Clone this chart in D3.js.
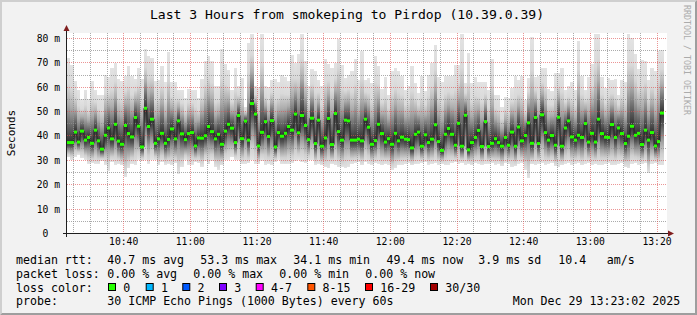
<!DOCTYPE html>
<html><head><meta charset="utf-8">
<script src="https://cdn.jsdelivr.net/npm/d3@7"></script>
<style>
html,body{margin:0;padding:0;background:#f2f2f2;}
svg{display:block;}
text{font-family:"DejaVu Sans Mono", monospace;fill:#000;}
</style></head><body>
<svg id="c" width="697" height="315"></svg>
<script>
// ---------------- data ----------------
const titleText = "Last 3 Hours from smokeping to Pirdop (10.39.0.39)";
const startTime = new Date(2025, 11, 29, 10, 23, 0);
const endTime = new Date(2025, 11, 29, 13, 23, 0);

// median RTT per 60 s step (ms)
const medianRtt = [
37.3,37.3,41.6,37.5,42.0,38.3,39.4,37.0,42.4,38.0,34.6,40.3,43.3,38.8,44.8,37.9,36.6,44.3,41.0,39.6,47.6,44.0,35.5,51.4,43.9,46.9,37.0,38.8,41.1,37.0,38.6,
42.9,38.8,46.2,40.9,38.5,41.0,41.4,35.9,39.2,39.1,40.1,43.9,41.8,38.8,40.7,36.6,42.0,44.8,43.2,37.3,48.4,38.9,46.1,38.3,53.3,49.0,35.9,41.5,45.9,
39.8,46.3,35.5,41.4,39.9,41.1,43.9,42.4,49.0,41.3,48.4,44.3,38.5,47.3,36.9,46.5,35.8,39.2,47.2,36.5,49.2,41.8,38.3,46.5,46.2,38.3,38.3,38.7,38.0,46.9,43.6,
36.6,38.1,44.8,41.0,37.5,38.9,36.6,41.1,38.0,39.5,38.7,38.5,35.1,40.7,41.6,35.8,40.5,37.3,38.7,44.6,37.7,34.1,40.7,43.1,40.7,36.2,45.2,35.8,48.5,34.3,
37.3,39.4,42.3,35.7,45.9,35.7,37.0,38.9,37.3,35.8,39.4,36.2,41.6,35.8,43.7,38.0,40.2,45.4,37.0,47.6,36.9,48.7,41.4,38.3,40.2,36.2,47.7,35.8,43.3,46.2,
39.6,38.3,40.3,39.4,45.1,37.5,41.1,37.5,46.9,41.0,39.5,39.4,44.7,39.4,43.3,41.0,36.9,39.9,44.0,40.3,41.1,36.5,42.4,38.3,41.4,35.9,37.7,49.4
];
// fastest ping per step (ms)
const minRtt = [
31.2,30.3,31.4,32.4,30.8,30.3,28.7,29.0,28.7,28.7,29.8,28.3,25.7,29.4,28.3,28.7,28.0,23.0,26.7,28.7,
28.3,30.3,29.8,30.1,28.7,30.3,30.1,28.0,29.4,28.3,28.7,28.0,29.0,24.6,27.3,30.3,28.3,28.3,29.4,29.0,
27.3,29.8,28.4,29.8,27.3,26.2,28.0,30.1,30.3,31.4,30.3,30.1,28.7,28.7,29.0,30.3,28.7,28.4,29.8,28.3,
28.7,28.0,29.4,30.3,28.7,28.4,28.7,29.0,29.8,30.3,29.4,29.0,30.1,30.3,28.3,28.7,28.0,27.3,26.7,28.7,
28.0,27.3,
27.3,26.7,27.3,28.7,29.0,29.4,28.0,29.4,28.7,28.3,29.0,28.7,28.0,28.7,28.3,26.2,26.7,28.0,28.3,28.7,
29.0,28.0,28.4,28.7,29.0,29.4,28.3,28.7,29.0,28.3,28.7,28.0,28.3,29.0,29.4,28.7,29.0,28.3,28.7,28.0,
29.0,28.7,28.3,28.4,28.7,29.0,28.3,28.7,27.6,29.0,28.7,27.3,27.6,28.7,29.0,26.2,22.6,28.4,28.0,28.7,
29.0,28.3,28.7,29.0,27.6,27.3,28.0,28.7,29.0,28.3,28.7,29.0,28.0,28.7,29.0,28.3,28.7,28.0,28.3,28.7,
29.0,28.0,28.3,28.7,29.0,27.3,26.7,28.7,29.0,28.3,28.7,29.0,25.0,28.7,29.0,28.3,28.0
];
// slowest ping per step (ms)
const maxRtt = [
72.0,69.3,62.5,59,55,59,55,62.5,59,57,57,65,64,68,70,63.5,62.5,64.5,68.6,64.5,
63.5,68,63.5,75.5,72.7,72,62.5,63,68.6,62,74.3,62,62,59,59,55.4,59.4,59,59,55.4,
63.5,70.6,72.7,70.6,60.4,60.4,75.5,69.7,67,58.8,67.7,60.4,63.8,52,78.2,82,60.4,60,82.3,60.4,
60,63,63.5,62,65,64,62.5,73.4,70,73.5,82.3,70.7,60.4,67.3,66.6,62.9,60.4,71.4,69.4,68,70,79.6,
69,63.8,65,66.6,71.4,62.9,74.9,62.9,63.8,61.8,72.7,68.6,59.4,64,57,66.6,67.7,66.6,64.5,59,
60.4,68.6,61.8,57.7,64.5,58.3,65,70,77.3,64,62.2,64.5,64.8,64.8,69,69,82.3,61.6,74.1,61.6,
64,62,62,62.2,58.8,71.4,57,56.7,52,56,55.7,59.7,64.5,62.9,64.5,54.6,63.8,80.6,64,64.5,
67.7,67.7,59.4,58.3,65.9,65.9,68,58.8,60.4,62,59,78.9,64.8,59,64,69.4,82,82.3,64,59.7,
63.8,62.9,63.2,57,62.9,62,82,80,73.8,67.3,71,70.6,62.9,68,66.6,74.9,75.2
];
const yGridMinor = [5,15,25,35,45,55,65,75];
const yGridMajor = [10,20,30,40,50,60,70,80];
const yTickValues = [0,10,20,30,40,50,60,70,80];
const yTickLabels = ["0  ","10 m","20 m","30 m","40 m","50 m","60 m","70 m","80 m"];

const legendRows = [
  {label:"median rtt:", items:[["40.7 ms avg",107.3],["53.3 ms max",200.3],["34.1 ms min",293.3],["49.4 ms now",386.5],["3.9 ms sd",478.3],["10.4",558.3],["am/s",606.7]]},
  {label:"packet loss:", items:[["0.00 % avg",107.3],["0.00 % max",193.3],["0.00 % min",279.3],["0.00 % now",365.3]]},
  {label:"loss color:", items:[]},
  {label:"probe:", items:[["30 ICMP Echo Pings (1000 Bytes) every 60s",107.3],["Mon Dec 29 13:23:02 2025",512.7]]}
];
const lossLabels = ["0","1","2","3","4-7","8-15","16-29","30/30"];
const lossColors = ["#26ff00","#00b8ff","#0059ff","#7e00ff","#ff00ff","#ff5500","#ff0000","#a00000"];
const lossBoxX = [108,145.7,182.3,219,255.7,307.3,365,430];

// ---------------- drawing ----------------
const svg = d3.select("#c");
const W = 697, H = 315;
const P = {left:67, right:667, top:33, bottom:233};
const yMax = 82.05;
const x = d3.scaleTime().domain([startTime, endTime]).range([P.left, P.right]);
const y = d3.scaleLinear().domain([0, yMax]).range([P.bottom + 0.5, P.top + 0.5]);

svg.append("rect").attr("width", W).attr("height", H).attr("fill", "#f2f2f2");
// 3d border
svg.append("path").attr("d", `M0,${H} L2,${H-2} L2,2 L${W-2},2 L${W},0 L0,0 Z`).attr("fill", "#cfcfcf");
svg.append("path").attr("d", `M2,${H-2} L${W-2},${H-2} L${W-2},2 L${W},0 L${W},${H} L0,${H} Z`).attr("fill", "#9e9e9e");

svg.append("rect").attr("x", P.left).attr("y", P.top).attr("width", P.right - P.left).attr("height", P.bottom - P.top + 1).attr("fill", "#fff");

const defs = svg.append("defs");
const gUp = defs.append("linearGradient").attr("id", "gUp").attr("x1", 0).attr("y1", 0).attr("x2", 0).attr("y2", 1);
[[0,"#e3e3e3"],[0.3,"#d9d9d9"],[0.55,"#acacac"],[0.78,"#6a6a6a"],[1,"#303030"]].forEach(s => gUp.append("stop").attr("offset", s[0]).attr("stop-color", s[1]));
const gDn = defs.append("linearGradient").attr("id", "gDn").attr("x1", 0).attr("y1", 0).attr("x2", 0).attr("y2", 1);
[[0,"#303030"],[0.22,"#555555"],[0.5,"#999999"],[0.78,"#cfcfcf"],[1,"#e3e3e3"]].forEach(s => gDn.append("stop").attr("offset", s[0]).attr("stop-color", s[1]));

const cols = medianRtt.map((m, k) => {
  const x0 = Math.round(x(d3.timeMinute.offset(startTime, k)));
  const x1 = Math.round(x(d3.timeMinute.offset(startTime, k + 1)));
  return {k, x0, x1, med: m, lo: minRtt[k], hi: Math.min(maxRtt[k], yMax)};
});

const smoke = svg.append("g").attr("shape-rendering", "crispEdges");
smoke.selectAll("rect.up").data(cols).join("rect").attr("class", "up")
  .attr("x", d => d.x0).attr("width", d => d.x1 - d.x0)
  .attr("y", d => y(d.hi)).attr("height", d => Math.max(0.5, y(d.med) - y(d.hi)))
  .attr("fill", "url(#gUp)");
smoke.selectAll("rect.dn").data(cols).join("rect").attr("class", "dn")
  .attr("x", d => d.x0).attr("width", d => d.x1 - d.x0)
  .attr("y", d => y(d.med)).attr("height", d => Math.max(0.5, y(d.lo) - y(d.med)))
  .attr("fill", "url(#gDn)");

// grid
const grid = svg.append("g").attr("stroke-dasharray", "1,1").attr("shape-rendering", "crispEdges");
const minorTimes = d3.timeMinute.every(5).range(startTime, endTime).filter(t => t > startTime);
const px = v => Math.round(v - 0.5) + 0.5;
grid.selectAll("line.vmin").data(minorTimes.filter(t => t.getMinutes() % 20 !== 0)).join("line")
  .attr("x1", d => px(x(d))).attr("x2", d => px(x(d))).attr("y1", P.top).attr("y2", P.bottom)
  .attr("stroke", "rgba(143,143,143,0.75)");
grid.selectAll("line.hmin").data(yGridMinor).join("line")
  .attr("x1", P.left).attr("x2", P.right).attr("y1", d => px(y(d))).attr("y2", d => px(y(d)))
  .attr("stroke", "rgba(143,143,143,0.75)");
const majorTimes = minorTimes.filter(t => t.getMinutes() % 20 === 0);
grid.selectAll("line.vmaj").data(majorTimes).join("line")
  .attr("x1", d => px(x(d))).attr("x2", d => px(x(d))).attr("y1", P.top).attr("y2", P.bottom)
  .attr("stroke", "rgba(222,79,79,0.6)");
grid.selectAll("line.hmaj").data(yGridMajor).join("line")
  .attr("x1", P.left).attr("x2", P.right).attr("y1", d => px(y(d))).attr("y2", d => px(y(d)))
  .attr("stroke", "rgba(222,79,79,0.6)");

// median line and loss-colour markers
const pts = [];
cols.forEach(d => { pts.push([d.x0, y(d.med)]); pts.push([d.x1, y(d.med)]); });
svg.append("path").attr("d", d3.line()(pts)).attr("fill", "none").attr("stroke", "#202020").attr("stroke-width", 1);
svg.append("g").selectAll("rect").data(cols).join("rect")
  .attr("x", d => d.x0).attr("width", d => d.x1 - d.x0)
  .attr("y", d => y(d.med) - 1.5).attr("height", 3)
  .attr("fill", lossColors[0]);

// axes
const axisCol = "#1f1f1f", arrowCol = "#801f1f";
svg.append("line").attr("x1", 66.5).attr("x2", 66.5).attr("y1", P.bottom + 4).attr("y2", P.top - 3).attr("stroke", axisCol);
svg.append("line").attr("x1", P.left - 4).attr("x2", P.right + 2).attr("y1", P.bottom + 0.5).attr("y2", P.bottom + 0.5).attr("stroke", axisCol);
svg.append("path").attr("d", `M63.5,${P.top - 2} L69.5,${P.top - 2} L66.5,${P.top - 8} Z`).attr("fill", arrowCol);
svg.append("path").attr("d", `M${P.right + 1},${P.bottom - 2.5} L${P.right + 1},${P.bottom + 3.5} L${P.right + 7},${P.bottom + 0.5} Z`).attr("fill", arrowCol);

// y tick labels
svg.append("g").selectAll("text").data(yTickValues).join("text")
  .attr("x", 60).attr("y", d => px(y(d)) + 3.5)
  .attr("text-anchor", "end").attr("font-size", "9.7px").attr("xml:space", "preserve")
  .style("white-space", "pre")
  .text((d, i) => yTickLabels[i]);
// x tick labels
svg.append("g").selectAll("text").data(majorTimes).join("text")
  .attr("x", d => x(d)).attr("y", 244.5).attr("text-anchor", "middle").attr("font-size", "9.7px")
  .text(d => d3.timeFormat("%H:%M")(d));

// title
svg.append("text").attr("x", 347).attr("y", 18.5).attr("text-anchor", "middle").attr("font-size", "13.1px").text(titleText);
// unit label
svg.append("text").attr("transform", "translate(14.5,133) rotate(-90)").attr("text-anchor", "middle").attr("font-size", "11px").text("Seconds");
// watermark
svg.append("text").attr("transform", "translate(684,5) rotate(90)").attr("font-size", "8.3px").style("fill", "#ababab").text("RRDTOOL / TOBI OETIKER");

// legend
const baselines = [264, 277.8, 291.6, 305.4];
const lg = svg.append("g").attr("font-size", "11.6px");
legendRows.forEach((r, i) => {
  lg.append("text").attr("x", 16).attr("y", baselines[i]).text(r.label);
  r.items.forEach(it => lg.append("text").attr("x", it[1]).attr("y", baselines[i]).text(it[0]));
});
lossLabels.forEach((l, i) => {
  lg.append("rect").attr("x", lossBoxX[i] + 0.5).attr("y", 283.5).attr("width", 7).attr("height", 7)
    .attr("fill", lossColors[i]).attr("stroke", "#000").attr("stroke-width", 1);
  lg.append("text").attr("x", lossBoxX[i] + 15.3).attr("y", baselines[2]).text(l);
});
</script>
</body></html>
